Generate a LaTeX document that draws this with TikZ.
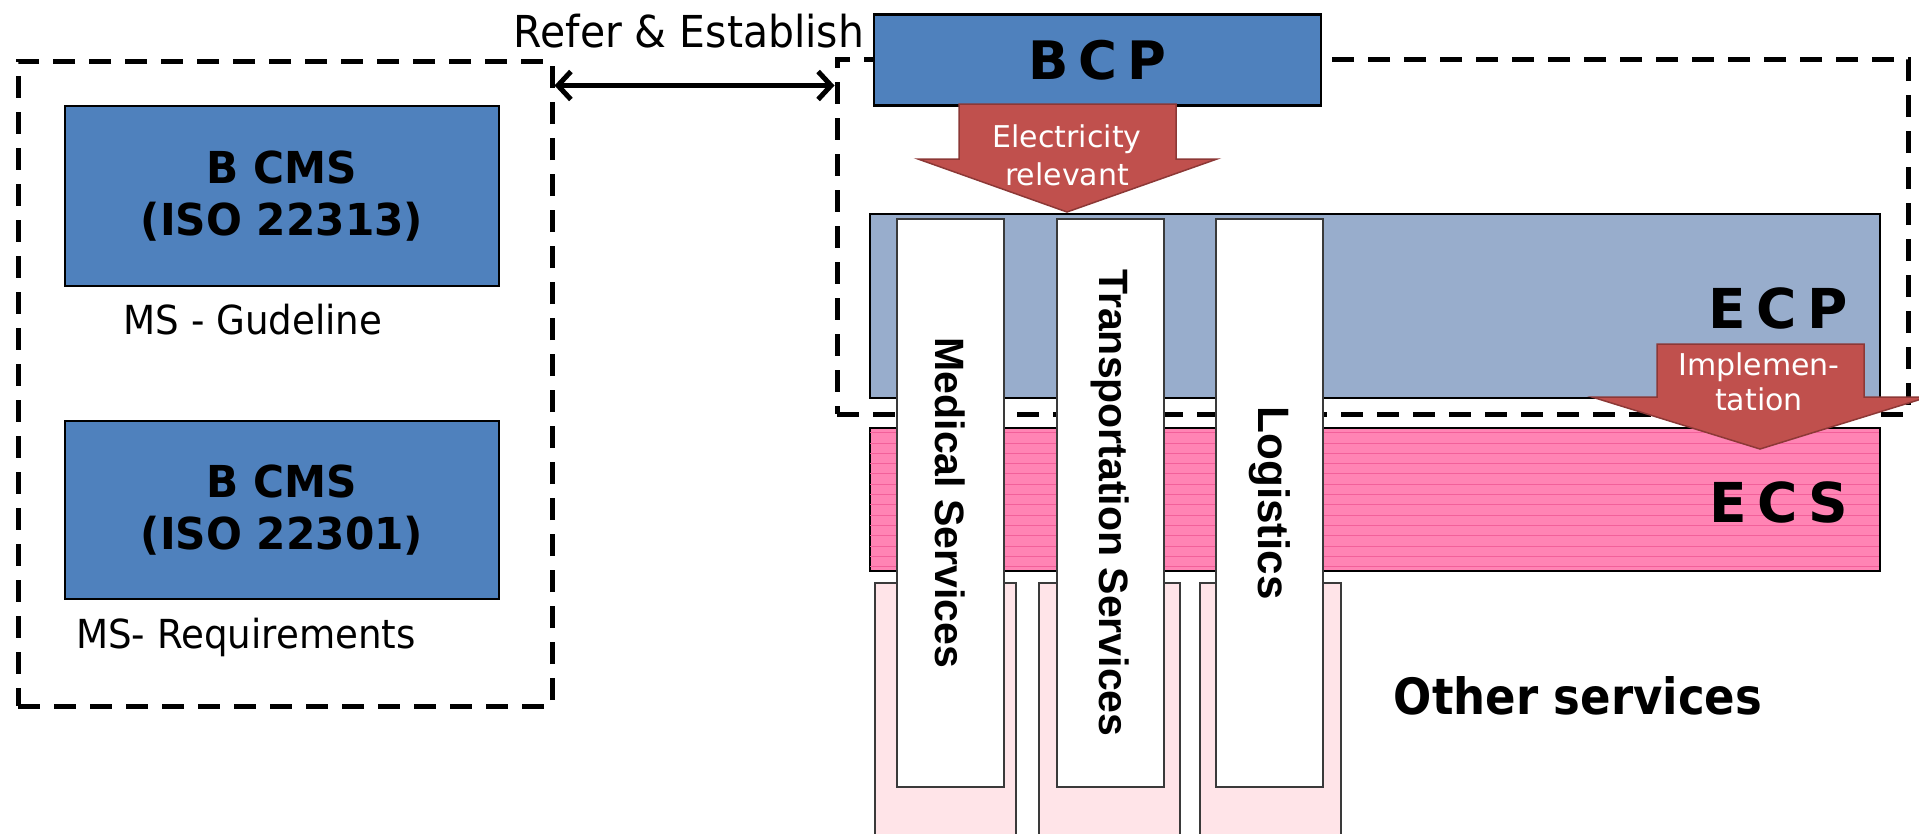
\documentclass[tikz,border=0pt]{standalone}
\usepackage{fontspec}
\setmainfont{DejaVu Sans}
\newfontfamily\narrowfont[FakeStretch=0.93]{DejaVu Sans}
\newfontfamily\condbold[FakeStretch=0.96]{DejaVu Sans}
\newfontfamily\narrowbold[FakeStretch=0.9]{DejaVu Sans}
\newfontfamily\letterfont[WordSpace=0.55]{DejaVu Sans}
\newfontfamily\colfont{Liberation Sans}
\usetikzlibrary{arrows.meta}

\newcommand\setfs[2]{\fontsize{#1}{#2}\selectfont}

\definecolor{boxblue}{HTML}{4F81BD}
\definecolor{ecpblue}{HTML}{98ADCC}
\definecolor{ecspink}{HTML}{FF84B4}
\definecolor{stripepink}{HTML}{F2609A}
\definecolor{stubpink}{HTML}{FFE4E8}
\definecolor{arrowred}{HTML}{C0504D}
\definecolor{arrowedge}{HTML}{8C3836}
\definecolor{colborder}{HTML}{3A3A3A}

\begin{document}
\begin{tikzpicture}[x=1pt, y=-1pt,
  group/.style={draw=black, line width=5pt, dash pattern=on 22pt off 14pt, inner sep=0pt},
  bluebox/.style={draw=black, line width=2.5pt, fill=boxblue, inner sep=0pt, align=center},
  layer/.style={draw=black, line width=2.5pt, inner sep=0pt, minimum width=1010pt},
  ecsline/.style={draw=stripepink, line width=1pt},
  column/.style={draw=colborder, line width=2pt, fill=white, inner sep=0pt,
    minimum width=107pt, minimum height=568pt, font=\colfont\bfseries\setfs{41}{41}},
  stub/.style={draw=colborder, line width=1.5pt, fill=stubpink, inner sep=0pt,
    minimum width=141pt, minimum height=300pt},
  bigarrow/.style={draw=arrowedge, line width=1.5pt, fill=arrowred, line join=miter},
  arrowtext/.style={text=white, inner sep=0pt, anchor=base, font=\setfs{30}{36}},
  plain/.style={inner sep=0pt, anchor=base, font=\narrowfont\setfs{40}{48}},
  bigletters/.style={inner sep=0pt, anchor=base east, font=\letterfont\bfseries\setfs{55}{60}},
  barb/.tip={Straight Barb[length=13pt,width=28pt]},
]
\useasboundingbox (0,0) rectangle (1919,833);

% dashed groupings
\node[group, minimum width=534pt, minimum height=645pt] (mspart) at (285,383.5) {};
\node[group, minimum width=1071pt, minimum height=355pt] (planpart) at (1372.5,236.5) {};

% management system standards
\node[bluebox, minimum width=434pt, minimum height=180pt,
      font=\condbold\bfseries\setfs{44}{52}] (guide) at (282,196) {B CMS\\(ISO 22313)};
\node[plain] (guidelbl) at (253,334) {MS - Gudeline};
\node[bluebox, minimum width=434pt, minimum height=178pt,
      font=\condbold\bfseries\setfs{44}{52}] (req) at (282,510) {B CMS\\(ISO 22301)};
\node[plain] (reqlbl) at (246,648) {MS- Requirements};

% relation between the two groups
\node[inner sep=0pt, anchor=base, font=\narrowfont\setfs{44}{48}] (refer) at (689,47) {Refer \& Establish};
\draw[line width=5pt, barb-barb] ([yshift=-27pt]mspart.north east) -- ([yshift=-29pt]planpart.north west);

% business continuity plan
\node[bluebox, minimum width=447pt, minimum height=91pt,
      font=\letterfont\bfseries\setfs{53}{56}] (bcp) at (1097.5,60) {B C P};

% ECP layer
\node[layer, fill=ecpblue, minimum height=184pt] (ecp) at (1375,306) {};
\node[bigletters] (ecplbl) at (1848,328) {E C P};

% ECS layer with horizontal stripes
\node[layer, fill=ecspink, minimum height=143pt] (ecs) at (1375,499.5) {};
\begin{scope}
  \clip ([xshift=1.25pt,yshift=-1.25pt]ecs.north west) rectangle ([xshift=-1.25pt,yshift=1.25pt]ecs.south east);
  \foreach \k in {0,...,13}
    \draw[ecsline] ([yshift={-(6+10.3*\k)*1pt}]ecs.north west) -- ++(1010,0);
\end{scope}
\node[bigletters] (ecslbl) at (1848,522) {E C S};

% service stubs below the layers
\node[stub] (stubA) at (945.5,733) {};
\node[stub] (stubB) at (1109.5,733) {};
\node[stub] (stubC) at (1270.5,733) {};

% service columns
\node[column] (medical) at (950,503) {\rotatebox{-90}{Medical Services}};
\node[column] (transport) at (1110.5,503) {\rotatebox{-90}{Transportation Services}};
\node[column, font=\colfont\bfseries\setfs{44}{44}] (logistics) at (1269.5,503) {\rotatebox{-90}{Logistics}};

\node[inner sep=0pt, anchor=base, font=\narrowbold\bfseries\setfs{50}{56}] (others) at (1578,714) {Other services};

% block arrows
\draw[bigarrow] (959,104) -- (1176,104) -- (1176,159) -- (1217,159) -- (1067,212)
  -- (918,159) -- (959,159) -- cycle;
\node[arrowtext] (elecA) at (1067,147) {Electricity};
\node[arrowtext] (elecB) at (1067,185) {relevant};

\draw[bigarrow] (1657,344) -- (1864,344) -- (1864,397) -- (1928,397) -- (1760,449)
  -- (1592,397) -- (1657,397) -- cycle;
\node[arrowtext] (implA) at (1759,375) {Implemen-};
\node[arrowtext] (implB) at (1759,410) {tation};
\end{tikzpicture}
\end{document}
